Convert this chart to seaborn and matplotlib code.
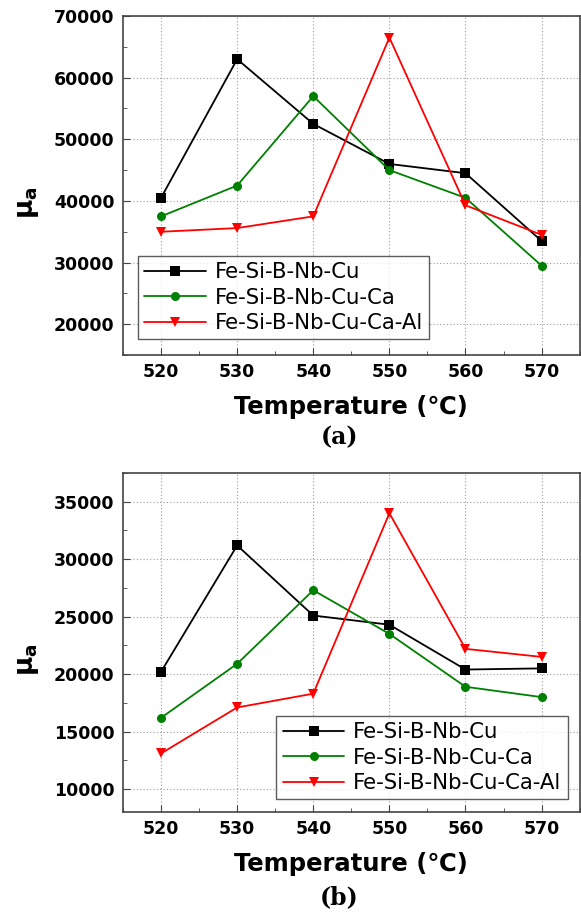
import pandas as pd
import seaborn as sns
import matplotlib.pyplot as plt
from matplotlib.ticker import MultipleLocator

# dati
temperature = [520, 530, 540, 550, 560, 570]
leghe = ["Fe-Si-B-Nb-Cu", "Fe-Si-B-Nb-Cu-Ca", "Fe-Si-B-Nb-Cu-Ca-Al"]

mu_a_cu = [40500, 63000, 52500, 46000, 44500, 33500]
mu_a_ca = [37500, 42500, 57000, 45000, 40500, 29500]
mu_a_al = [35000, 35600, 37500, 66500, 39300, 34500]

mu_b_cu = [20200, 31200, 25100, 24300, 20400, 20500]
mu_b_ca = [16200, 20900, 27300, 23500, 18900, 18000]
mu_b_al = [13100, 17100, 18300, 34000, 22200, 21500]

colori = {"Fe-Si-B-Nb-Cu": "black", "Fe-Si-B-Nb-Cu-Ca": "green", "Fe-Si-B-Nb-Cu-Ca-Al": "red"}
marker = {"Fe-Si-B-Nb-Cu": "s", "Fe-Si-B-Nb-Cu-Ca": "o", "Fe-Si-B-Nb-Cu-Ca-Al": "v"}


def to_df(serie):
    righe = []
    for lega, valori in zip(leghe, serie):
        for t, v in zip(temperature, valori):
            righe.append({"T": t, "mu": v, "lega": lega})
    return pd.DataFrame(righe)


df_a = to_df([mu_a_cu, mu_a_ca, mu_a_al])
df_b = to_df([mu_b_cu, mu_b_ca, mu_b_al])

sns.set_style("ticks")
plt.rcParams["font.family"] = ["DejaVu Sans"]
plt.rcParams["text.color"] = "black"
plt.rcParams["axes.labelcolor"] = "black"
plt.rcParams["xtick.color"] = "black"
plt.rcParams["ytick.color"] = "black"

fig = plt.figure(figsize=(5.81, 9.16), dpi=100)
ax_a = fig.add_axes([0.2117, 0.6124, 0.786, 0.3701])
ax_b = fig.add_axes([0.2117, 0.1135, 0.786, 0.3701])


def disegna(ax, df, ylim, ystep, legend_box, caption, cap_y):
    sns.lineplot(data=df, x="T", y="mu", hue="lega", style="lega",
                 palette=colori, markers=marker, dashes=False,
                 markersize=6.5, markeredgewidth=0, linewidth=1.3, ax=ax)
    ax.set_xlim(515, 575)
    ax.set_ylim(*ylim)
    ax.xaxis.set_major_locator(MultipleLocator(10))
    ax.xaxis.set_minor_locator(MultipleLocator(5))
    ax.yaxis.set_major_locator(MultipleLocator(ystep))
    ax.yaxis.set_minor_locator(MultipleLocator(ystep / 2))
    ax.tick_params(which="both", direction="in", top=False, right=False, color="#444444")
    ax.tick_params(which="major", length=5, labelsize=12.5, pad=6)
    ax.tick_params(which="minor", length=3)
    for lab in ax.get_xticklabels() + ax.get_yticklabels():
        lab.set_fontweight("bold")
    ax.grid(True, which="major", linestyle=(0, (1, 2)), color="#999999", linewidth=0.8)
    for s in ax.spines.values():
        s.set_color("#444444")
        s.set_linewidth(1.2)
    ax.set_xlabel("Temperature (℃)", fontsize=17.5, fontweight="bold", labelpad=10)
    ax.set_ylabel(r"$\mathbf{\mu_a}$", fontsize=19)
    ax.yaxis.set_label_coords(-0.18, 0.45)
    leg = ax.legend(loc="upper left", bbox_to_anchor=legend_box, fontsize=15.3,
                    frameon=True, fancybox=False, handlelength=2.9,
                    borderpad=0.3, labelspacing=0.25, handletextpad=0.4,
                    borderaxespad=0)
    leg.get_frame().set_edgecolor("#333333")
    leg.get_frame().set_linewidth(1.0)
    ax.text(0.474, cap_y, caption, transform=ax.transAxes, ha="center", va="center",
            fontsize=17, fontweight="bold", family="DejaVu Serif")


disegna(ax_a, df_a, (15000, 70000), 10000, (0.033, 0.292), "(a)", -0.242)
disegna(ax_b, df_b, (8000, 37500), 5000, (0.336, 0.283), "(b)", -0.25)

fig.savefig("out.png", dpi=100)
